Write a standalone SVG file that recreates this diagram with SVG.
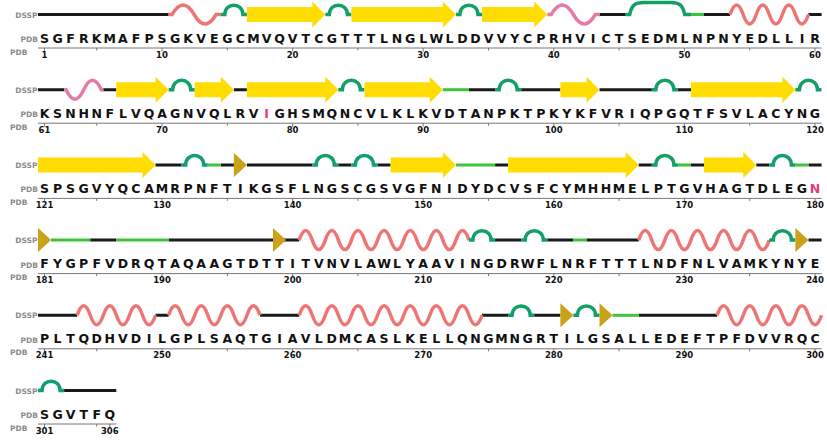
<svg xmlns="http://www.w3.org/2000/svg" width="827" height="441" viewBox="0 0 827 441">
<style>
.c{stroke:#1a1a1a;stroke-width:3;fill:none}
.b{stroke:#3dc43d;stroke-width:3;fill:none}
.t{stroke:#13a068;stroke-width:3.5;fill:none}
.h{stroke:#ef7474;stroke-width:3.5;fill:none}
.g{stroke:#e57aa8;stroke-width:3.5;fill:none}
.e{fill:#ffdd00}
.br{fill:#c9a217}
.lab{font-family:"DejaVu Sans",sans-serif;font-size:7.5px;font-weight:bold;fill:#8a8a8a;text-anchor:end}
.aa{font-family:"DejaVu Sans",sans-serif;font-size:12.5px;font-weight:bold;fill:#111;text-anchor:middle}
.num{font-family:"DejaVu Sans",sans-serif;font-size:8.5px;font-weight:bold;fill:#111;text-anchor:middle}
.ax{stroke:#777;stroke-width:1;fill:none}
.hl{fill:#e23c78}
</style>
<rect width="827" height="441" fill="#ffffff"/>

<g id="row1" transform="translate(0,14.5)">
<text class="lab" x="37.5" y="3">DSSP</text>
<text class="lab" x="38" y="27.5">PDB</text>
<text class="lab" x="27.5" y="40">PDB</text>
<g id="dssp1">
<path class="c" d="M38,0H168.6M599.5,0H625.7M704,0H730.1M808.5,0H821.6"/>
<path class="b" d="M691,0H704"/>
<path class="h" d="M168.6,0 h3.5 q11,-19 22,0 t22,0 h4.7"/>
<path class="g" d="M547.3,0 h4 q11,-19 22,0 t22,0 h4.2"/>
<path class="h" d="M730.1,0 q6.53,-19 13.06,0 t13.06,0 t13.06,0 t13.06,0 t13.06,0 t13.06,0"/>
<path class="t" d="M220.8,0h4c0,-12.5 18.1,-12.5 18.1,0h4M325.3,0h4c0,-12.5 18.1,-12.5 18.1,0h4M455.9,0h4c0,-12.5 18.1,-12.5 18.1,0h4"/>
<path class="t" d="M625.7,0h4c2,-10 6,-12 14,-12h27c8,0 12,2 14,12h6.3"/>
<polygon class="e" points="246.9,-7.5 312.3,-7.5 312.3,-13 325.3,0 312.3,13 312.3,7.5 246.9,7.5"/>
<polygon class="e" points="351.4,-7.5 442.9,-7.5 442.9,-13 455.9,0 442.9,13 442.9,7.5 351.4,7.5"/>
<polygon class="e" points="482,-7.5 534.3,-7.5 534.3,-13 547.3,0 534.3,13 534.3,7.5 482,7.5"/>
</g>
<text class="aa" y="28" x="44.5 57.6 70.6 83.7 96.7 109.8 122.9 135.9 149.0 162.0 175.1 188.2 201.2 214.3 227.3 240.4 253.5 266.5 279.6 292.6 305.7 318.8 331.8 344.9 357.9 371.0 384.1 397.1 410.2 423.2 436.3 449.4 462.4 475.5 488.5 501.6 514.7 527.7 540.8 553.8 566.9 580.0 593.0 606.1 619.1 632.2 645.3 658.3 671.4 684.4 697.5 710.6 723.6 736.7 749.7 762.8 775.9 788.9 802.0 815.0">SGFRKMAFPSGKVEGCMVQVTCGTTTLNGLWLDDVVYCPRHVICTSEDMLNPNYEDLLIR</text>
<path class="ax" d="M38,33.5H821.6M44.5,33.5v3.5M162,33.5v3.5M292.6,33.5v3.5M423.2,33.5v3.5M553.8,33.5v3.5M684.4,33.5v3.5M815,33.5v3.5M96.7,33.5v2.5M227.3,33.5v2.5M357.9,33.5v2.5M488.5,33.5v2.5M619.1,33.5v2.5M749.7,33.5v2.5"/>
<text class="num" y="43"><tspan x="44.5">1</tspan><tspan x="162">10</tspan><tspan x="292.6">20</tspan><tspan x="423.2">30</tspan><tspan x="553.8">40</tspan><tspan x="684.4">50</tspan><tspan x="815">60</tspan></text>
</g>

<g id="row2" transform="translate(0,89.7)">
<text class="lab" x="37.5" y="3">DSSP</text>
<text class="lab" x="38" y="27.5">PDB</text>
<text class="lab" x="27.5" y="40">PDB</text>
<g id="dssp2">
<path class="c" d="M38,0H64.1M103.3,0H116.3M233.9,0H246.9M468.9,0H495.1M521.2,0H560.4M599.5,0H651.8M677.9,0H691"/>
<path class="b" d="M442.8,0H468.9"/>
<path class="g" d="M64.1,0 h2 q8.8,19 17.6,0 t17.6,0 h2"/>
<path class="t" d="M168.6,0h4c0,-12.5 18.1,-12.5 18.1,0h4M338.3,0h4c0,-12.5 18.1,-12.5 18.1,0h4M495.1,0h4c0,-12.5 18.1,-12.5 18.1,0h4M651.8,0h4c0,-12.5 18.1,-12.5 18.1,0h4M795.4,0h4c0,-12.5 18.1,-12.5 18.1,0h4"/>
<polygon class="e" points="116.3,-7.5 155.6,-7.5 155.6,-13 168.6,0 155.6,13 155.6,7.5 116.3,7.5"/>
<polygon class="e" points="194.7,-7.5 220.9,-7.5 220.9,-13 233.9,0 220.9,13 220.9,7.5 194.7,7.5"/>
<polygon class="e" points="246.9,-7.5 325.3,-7.5 325.3,-13 338.3,0 325.3,13 325.3,7.5 246.9,7.5"/>
<polygon class="e" points="364.5,-7.5 429.8,-7.5 429.8,-13 442.8,0 429.8,13 429.8,7.5 364.5,7.5"/>
<polygon class="e" points="560.4,-7.5 586.5,-7.5 586.5,-13 599.5,0 586.5,13 586.5,7.5 560.4,7.5"/>
<polygon class="e" points="691,-7.5 782.4,-7.5 782.4,-13 795.4,0 782.4,13 782.4,7.5 691,7.5"/>
</g>
<text class="aa" y="28"><tspan x="44.5 57.6 70.6 83.7 96.7 109.8 122.9 135.9 149.0 162.0 175.1 188.2 201.2 214.3 227.3 240.4 253.5">KSNHNFLVQAGNVQLRV</tspan><tspan class="hl" x="266.5">I</tspan><tspan x="279.6 292.6 305.7 318.8 331.8 344.9 357.9 371.0 384.1 397.1 410.2 423.2 436.3 449.4 462.4 475.5 488.5 501.6 514.7 527.7 540.8 553.8 566.9 580.0 593.0 606.1 619.1 632.2 645.3 658.3 671.4 684.4 697.5 710.6 723.6 736.7 749.7 762.8 775.9 788.9 802.0 815.0">GHSMQNCVLKLKVDTANPKTPKYKFVRIQPGQTFSVLACYNG</tspan></text>
<path class="ax" d="M38,33.5H821.6M44.5,33.5v3.5M162,33.5v3.5M292.6,33.5v3.5M423.2,33.5v3.5M553.8,33.5v3.5M684.4,33.5v3.5M815,33.5v3.5M96.7,33.5v2.5M227.3,33.5v2.5M357.9,33.5v2.5M488.5,33.5v2.5M619.1,33.5v2.5M749.7,33.5v2.5"/>
<text class="num" y="43"><tspan x="44.5">61</tspan><tspan x="162">70</tspan><tspan x="292.6">80</tspan><tspan x="423.2">90</tspan><tspan x="553.8">100</tspan><tspan x="684.4">110</tspan><tspan x="815">120</tspan></text>
</g>

<g id="row3" transform="translate(0,164.9)">
<text class="lab" x="37.5" y="3">DSSP</text>
<text class="lab" x="38" y="27.5">PDB</text>
<text class="lab" x="27.5" y="40">PDB</text>
<g id="dssp3">
<path class="c" d="M155.5,0H181.6M220.8,0H233.9M246.9,0H312.2M338.3,0H351.4M377.5,0H390.6M495.1,0H508.1M638.7,0H651.8M691,0H704M756.3,0H769.3M808.5,0H821.6"/>
<path class="b" d="M207.7,0H220.8M455.9,0H495.1M677.9,0H691M795.4,0H808.5"/>
<path class="t" d="M181.6,0h4c0,-12.5 18.1,-12.5 18.1,0h4M312.2,0h4c0,-12.5 18.1,-12.5 18.1,0h4M351.4,0h4c0,-12.5 18.1,-12.5 18.1,0h4M651.8,0h4c0,-12.5 18.1,-12.5 18.1,0h4M769.3,0h4c0,-12.5 18.1,-12.5 18.1,0h4"/>
<polygon class="e" points="38,-7.5 142.5,-7.5 142.5,-13 155.5,0 142.5,13 142.5,7.5 38,7.5"/>
<polygon class="e" points="390.6,-7.5 442.9,-7.5 442.9,-13 455.9,0 442.9,13 442.9,7.5 390.6,7.5"/>
<polygon class="e" points="508.1,-7.5 625.7,-7.5 625.7,-13 638.7,0 625.7,13 625.7,7.5 508.1,7.5"/>
<polygon class="e" points="704,-7.5 743.3,-7.5 743.3,-13 756.3,0 743.3,13 743.3,7.5 704,7.5"/>
<polygon class="br" points="233.9,-12 246.9,0 233.9,12"/>
</g>
<text class="aa" y="28"><tspan x="44.5 57.6 70.6 83.7 96.7 109.8 122.9 135.9 149.0 162.0 175.1 188.2 201.2 214.3 227.3 240.4 253.5 266.5 279.6 292.6 305.7 318.8 331.8 344.9 357.9 371.0 384.1 397.1 410.2 423.2 436.3 449.4 462.4 475.5 488.5 501.6 514.7 527.7 540.8 553.8 566.9 580.0 593.0 606.1 619.1 632.2 645.3 658.3 671.4 684.4 697.5 710.6 723.6 736.7 749.7 762.8 775.9 788.9 802.0">SPSGVYQCAMRPNFTIKGSFLNGSCGSVGFNIDYDCVSFCYMHHMELPTGVHAGTDLEG</tspan><tspan class="hl" x="815">N</tspan></text>
<path class="ax" d="M38,33.5H821.6M44.5,33.5v3.5M162,33.5v3.5M292.6,33.5v3.5M423.2,33.5v3.5M553.8,33.5v3.5M684.4,33.5v3.5M815,33.5v3.5M96.7,33.5v2.5M227.3,33.5v2.5M357.9,33.5v2.5M488.5,33.5v2.5M619.1,33.5v2.5M749.7,33.5v2.5"/>
<text class="num" y="43"><tspan x="44.5">121</tspan><tspan x="162">130</tspan><tspan x="292.6">140</tspan><tspan x="423.2">150</tspan><tspan x="553.8">160</tspan><tspan x="684.4">170</tspan><tspan x="815">180</tspan></text>
</g>

<g id="row4" transform="translate(0,240.1)">
<text class="lab" x="37.5" y="3">DSSP</text>
<text class="lab" x="38" y="27.5">PDB</text>
<text class="lab" x="27.5" y="40">PDB</text>
<g id="dssp4">
<path class="c" d="M90.2,0H116.3M168.6,0H299.2M495.1,0H521.2M547.3,0H573.4M586.5,0H638.7M808.5,0H821.6"/>
<path class="b" d="M51,0H90.2M116.3,0H168.6M573.4,0H586.5"/>
<path class="h" d="M299.2,0 q6.53,-19 13.06,0 t13.06,0 t13.06,0 t13.06,0 t13.06,0 t13.06,0 t13.06,0 t13.06,0 t13.06,0 t13.06,0 t13.06,0 t13.06,0 t13.06,0"/>
<path class="h" d="M638.7,0 q6.53,-19 13.06,0 t13.06,0 t13.06,0 t13.06,0 t13.06,0 t13.06,0 t13.06,0 t13.06,0 t13.06,0 t13.06,0"/>
<path class="t" d="M468.9,0h4c0,-12.5 18.1,-12.5 18.1,0h4M521.2,0h4c0,-12.5 18.1,-12.5 18.1,0h4M769.3,0h4c0,-12.5 18.1,-12.5 18.1,0h4"/>
<polygon class="br" points="38,-12 51,0 38,12"/>
<polygon class="br" points="273,-12 286.1,0 273,12"/>
<polygon class="br" points="795.4,-12 808.5,0 795.4,12"/>
</g>
<text class="aa" y="28" x="44.5 57.6 70.6 83.7 96.7 109.8 122.9 135.9 149.0 162.0 175.1 188.2 201.2 214.3 227.3 240.4 253.5 266.5 279.6 292.6 305.7 318.8 331.8 344.9 357.9 371.0 384.1 397.1 410.2 423.2 436.3 449.4 462.4 475.5 488.5 501.6 514.7 527.7 540.8 553.8 566.9 580.0 593.0 606.1 619.1 632.2 645.3 658.3 671.4 684.4 697.5 710.6 723.6 736.7 749.7 762.8 775.9 788.9 802.0 815.0">FYGPFVDRQTAQAAGTDTTITVNVLAWLYAAVINGDRWFLNRFTTTLNDFNLVAMKYNYE</text>
<path class="ax" d="M38,33.5H821.6M44.5,33.5v3.5M162,33.5v3.5M292.6,33.5v3.5M423.2,33.5v3.5M553.8,33.5v3.5M684.4,33.5v3.5M815,33.5v3.5M96.7,33.5v2.5M227.3,33.5v2.5M357.9,33.5v2.5M488.5,33.5v2.5M619.1,33.5v2.5M749.7,33.5v2.5"/>
<text class="num" y="43"><tspan x="44.5">181</tspan><tspan x="162">190</tspan><tspan x="292.6">200</tspan><tspan x="423.2">210</tspan><tspan x="553.8">220</tspan><tspan x="684.4">230</tspan><tspan x="815">240</tspan></text>
</g>

<g id="row5" transform="translate(0,315.3)">
<text class="lab" x="37.5" y="3">DSSP</text>
<text class="lab" x="38" y="27.5">PDB</text>
<text class="lab" x="27.5" y="40">PDB</text>
<g id="dssp5">
<path class="c" d="M38,0H77.2M155.5,0H168.6M260,0H299.2M482,0H508.1M534.2,0H560.4M638.7,0H717.1"/>
<path class="b" d="M612.6,0H638.7"/>
<path class="h" d="M77.2,0 q6.53,-19 13.06,0 t13.06,0 t13.06,0 t13.06,0 t13.06,0 t13.06,0"/>
<path class="h" d="M168.6,0 q6.53,-19 13.06,0 t13.06,0 t13.06,0 t13.06,0 t13.06,0 t13.06,0 t13.06,0"/>
<path class="h" d="M299.2,0 q6.53,-19 13.06,0 t13.06,0 t13.06,0 t13.06,0 t13.06,0 t13.06,0 t13.06,0 t13.06,0 t13.06,0 t13.06,0 t13.06,0 t13.06,0 t13.06,0 t13.06,0"/>
<path class="h" d="M717.1,0 q6.53,-19 13.06,0 t13.06,0 t13.06,0 t13.06,0 t13.06,0 t13.06,0 t13.06,0 t13.06,0"/>
<path class="t" d="M508.1,0h4c0,-12.5 18.1,-12.5 18.1,0h4M573.4,0h4c0,-12.5 18.1,-12.5 18.1,0h4"/>
<polygon class="br" points="560.4,-12 573.4,0 560.4,12"/>
<polygon class="br" points="599.5,-12 612.6,0 599.5,12"/>
</g>
<text class="aa" y="28" x="44.5 57.6 70.6 83.7 96.7 109.8 122.9 135.9 149.0 162.0 175.1 188.2 201.2 214.3 227.3 240.4 253.5 266.5 279.6 292.6 305.7 318.8 331.8 344.9 357.9 371.0 384.1 397.1 410.2 423.2 436.3 449.4 462.4 475.5 488.5 501.6 514.7 527.7 540.8 553.8 566.9 580.0 593.0 606.1 619.1 632.2 645.3 658.3 671.4 684.4 697.5 710.6 723.6 736.7 749.7 762.8 775.9 788.9 802.0 815.0">PLTQDHVDILGPLSAQTGIAVLDMCASLKELLQNGMNGRTILGSALLEDEFTPFDVVRQC</text>
<path class="ax" d="M38,33.5H821.6M44.5,33.5v3.5M162,33.5v3.5M292.6,33.5v3.5M423.2,33.5v3.5M553.8,33.5v3.5M684.4,33.5v3.5M815,33.5v3.5M96.7,33.5v2.5M227.3,33.5v2.5M357.9,33.5v2.5M488.5,33.5v2.5M619.1,33.5v2.5M749.7,33.5v2.5"/>
<text class="num" y="43"><tspan x="44.5">241</tspan><tspan x="162">250</tspan><tspan x="292.6">260</tspan><tspan x="423.2">270</tspan><tspan x="553.8">280</tspan><tspan x="684.4">290</tspan><tspan x="815">300</tspan></text>
</g>

<g id="row6" transform="translate(0,390.5)">
<text class="lab" x="37.5" y="3">DSSP</text>
<text class="lab" x="38" y="27.5">PDB</text>
<text class="lab" x="27.5" y="40">PDB</text>
<g id="dssp6">
<path class="c" d="M64.1,0H116.3"/>
<path class="t" d="M38,0h4c0,-12.5 18.1,-12.5 18.1,0h4"/>
</g>
<text class="aa" y="28" x="44.5 57.6 70.6 83.7 96.7 109.8">SGVTFQ</text>
<path class="ax" d="M38,33.5H116.3M44.5,33.5v3.5M109.8,33.5v3.5M96.7,33.5v2.5"/>
<text class="num" y="43"><tspan x="44.5">301</tspan><tspan x="109.8">306</tspan></text>
</g>
</svg>
